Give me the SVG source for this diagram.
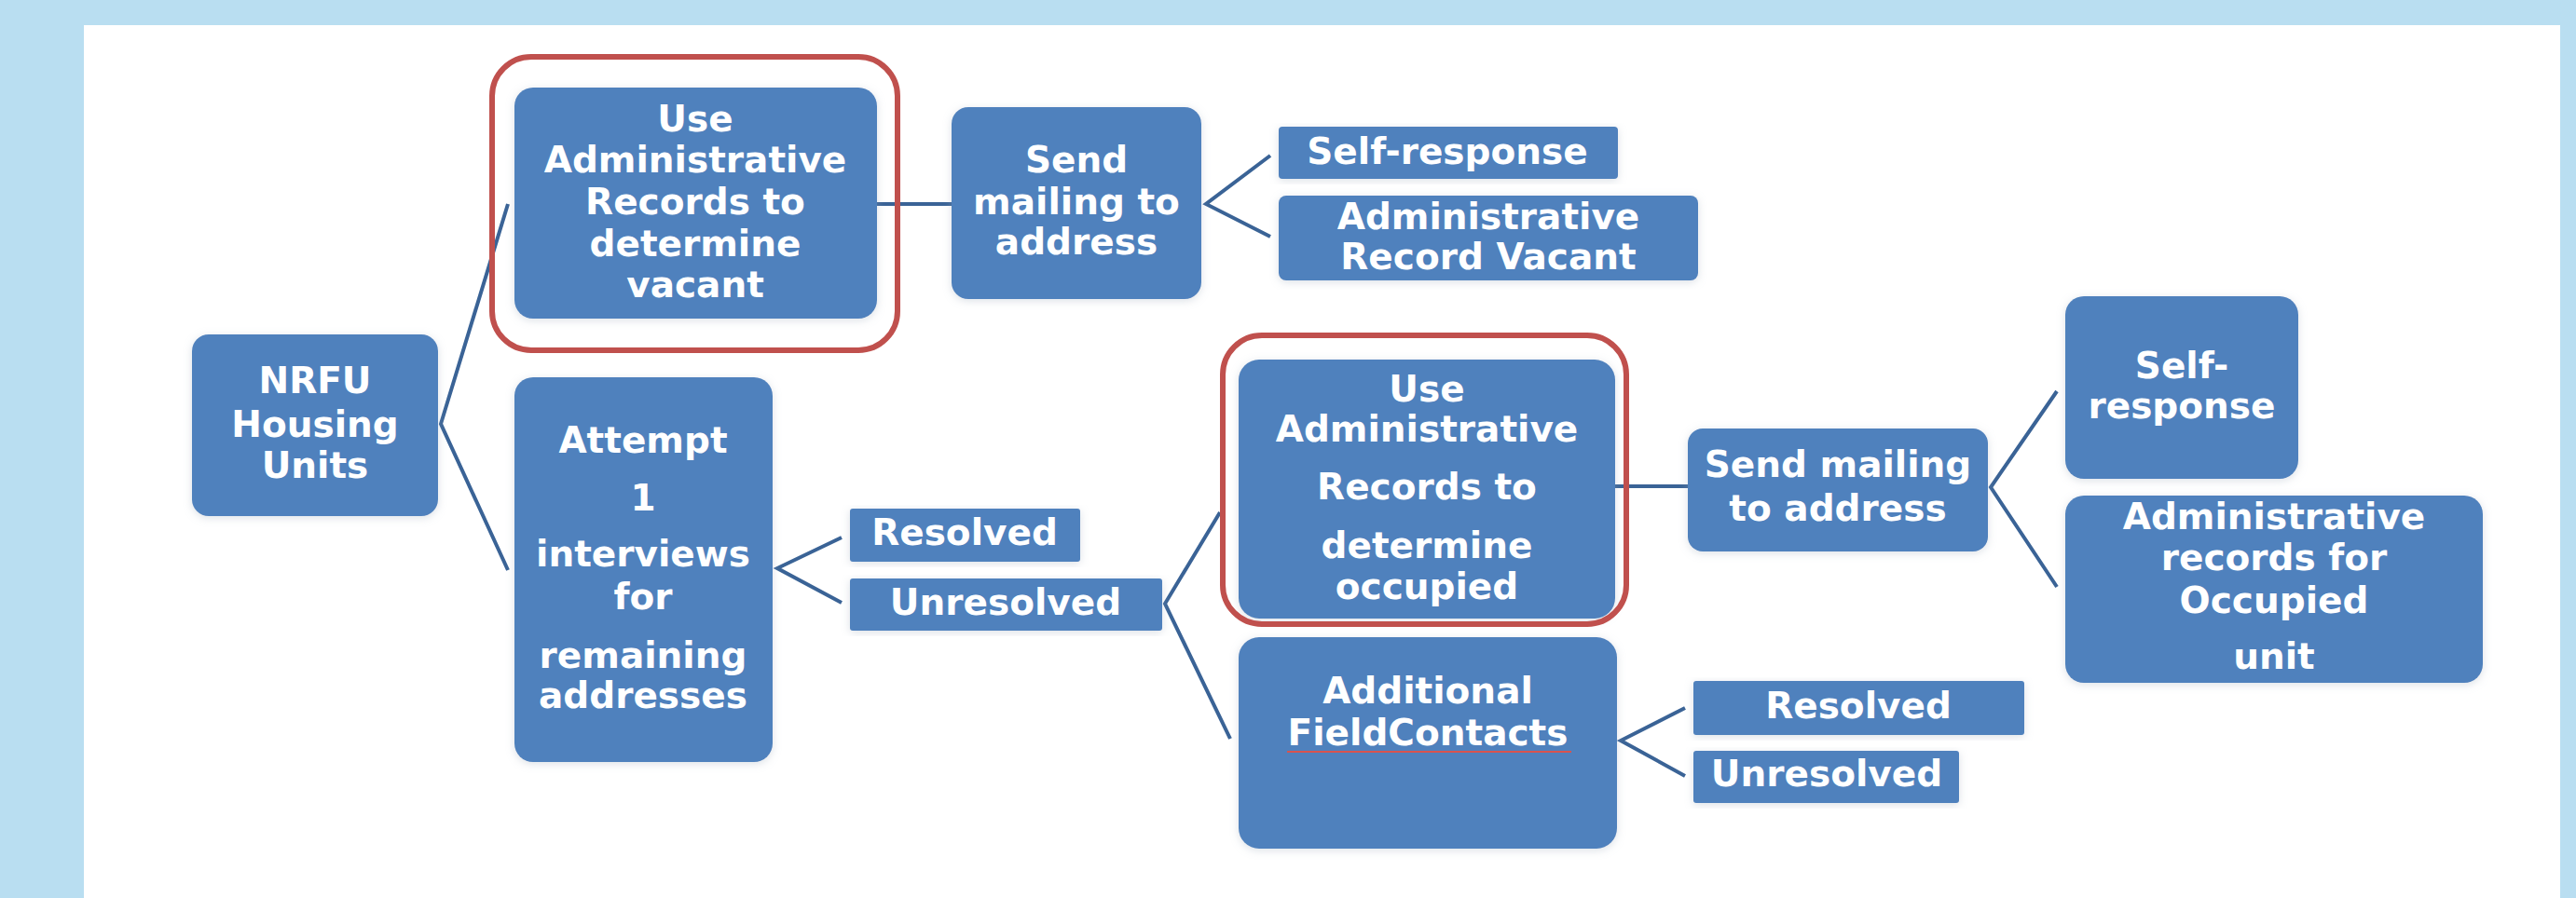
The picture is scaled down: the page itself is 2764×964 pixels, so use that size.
<svg xmlns="http://www.w3.org/2000/svg" width="2764" height="964" viewBox="0 0 2764 964">
  <defs>
    <filter id="halo" x="-10%" y="-10%" width="120%" height="120%">
      <feGaussianBlur in="SourceAlpha" stdDeviation="5"/>
      <feOffset dx="0" dy="2" result="b"/>
      <feFlood flood-color="#9aa8b8" flood-opacity="0.35"/>
      <feComposite in2="b" operator="in"/>
      <feMerge><feMergeNode/><feMergeNode in="SourceGraphic"/></feMerge>
    </filter>
    <style>
      .box { fill: #4F81BD; filter: url(#halo); }
      .hl { fill: none; stroke: #C0504D; stroke-width: 6; }
      .lbl { font-family: "DejaVu Sans", Verdana, sans-serif; font-weight: bold; font-size: 39px; fill: #FFFFFF; text-anchor: middle; }
      .conn { fill: none; stroke: #3A6396; stroke-width: 4; stroke-linejoin: miter; }
    </style>
  </defs>

  <!-- page backdrop and white panel -->
  <rect x="0" y="0" width="2764" height="964" fill="#B9DEF1"/>
  <rect x="90" y="27" width="2657" height="937" fill="#FFFFFF"/>

  <!-- connectors -->
  <g id="connectors">
    <polyline class="conn" points="545,219 473,455 545,612"/>
    <line class="conn" x1="941" y1="219" x2="1021" y2="219"/>
    <polyline class="conn" points="1363,167 1294,219 1363,254"/>
    <polyline class="conn" points="903,577 834,610 903,647"/>
    <polyline class="conn" points="1309,550 1250,648 1320,793"/>
    <line class="conn" x1="1733" y1="522" x2="1811" y2="522"/>
    <polyline class="conn" points="2207,420 2136,523 2207,630"/>
    <polyline class="conn" points="1808,760 1739,795 1808,833"/>
  </g>

  <g id="nrfu">
    <rect class="box" x="206" y="359" width="264" height="195" rx="18"/>
    <text class="lbl" x="338" y="422">NRFU</text>
    <text class="lbl" x="338" y="469">Housing</text>
    <text class="lbl" x="338" y="513">Units</text>
  </g>

  <g id="admin-vacant-check">
    <rect class="box" x="552" y="94" width="389" height="248" rx="20"/>
    <text class="lbl" x="746" y="141">Use</text>
    <text class="lbl" x="746" y="185">Administrative</text>
    <text class="lbl" x="746" y="230">Records to</text>
    <text class="lbl" x="746" y="275">determine</text>
    <text class="lbl" x="746" y="319">vacant</text>
    <rect class="hl" x="528" y="61" width="435" height="315" rx="42"/>
  </g>

  <g id="send-mailing-1">
    <rect class="box" x="1021" y="115" width="268" height="206" rx="18"/>
    <text class="lbl" x="1155" y="185">Send</text>
    <text class="lbl" x="1155" y="230">mailing to</text>
    <text class="lbl" x="1155" y="273">address</text>
  </g>

  <g id="self-response-1">
    <rect class="box" x="1372" y="136" width="364" height="56" rx="4"/>
    <text class="lbl" x="1553" y="176">Self-response</text>
  </g>

  <g id="admin-record-vacant">
    <rect class="box" x="1372" y="210" width="450" height="91" rx="8"/>
    <text class="lbl" x="1597" y="246">Administrative</text>
    <text class="lbl" x="1597" y="289">Record Vacant</text>
  </g>

  <g id="attempt-interviews">
    <rect class="box" x="552" y="405" width="277" height="413" rx="20"/>
    <text class="lbl" x="690" y="486">Attempt</text>
    <text class="lbl" x="690" y="548">1</text>
    <text class="lbl" x="690" y="608">interviews</text>
    <text class="lbl" x="690" y="654">for</text>
    <text class="lbl" x="690" y="717">remaining</text>
    <text class="lbl" x="690" y="760">addresses</text>
  </g>

  <g id="resolved-1">
    <rect class="box" x="912" y="546" width="247" height="57" rx="3"/>
    <text class="lbl" x="1035" y="585">Resolved</text>
  </g>

  <g id="unresolved-1">
    <rect class="box" x="912" y="621" width="335" height="56" rx="3"/>
    <text class="lbl" x="1079" y="660">Unresolved</text>
  </g>

  <g id="admin-occupied-check">
    <rect class="box" x="1329" y="386" width="404" height="278" rx="22"/>
    <text class="lbl" x="1531" y="431">Use</text>
    <text class="lbl" x="1531" y="474">Administrative</text>
    <text class="lbl" x="1531" y="536">Records to</text>
    <text class="lbl" x="1531" y="599">determine</text>
    <text class="lbl" x="1531" y="643">occupied</text>
    <rect class="hl" x="1312" y="360" width="433" height="310" rx="42"/>
  </g>

  <g id="additional-contacts">
    <rect class="box" x="1329" y="684" width="406" height="227" rx="22"/>
    <text class="lbl" x="1532" y="755">Additional</text>
    <text class="lbl" x="1532" y="800">FieldContacts</text>
    <line x1="1381" y1="807" x2="1686" y2="807" stroke="#D9534F" stroke-width="2"/>
  </g>

  <g id="send-mailing-2">
    <rect class="box" x="1811" y="460" width="322" height="132" rx="16"/>
    <text class="lbl" x="1972" y="512">Send mailing</text>
    <text class="lbl" x="1972" y="559">to address</text>
  </g>

  <g id="resolved-2">
    <rect class="box" x="1817" y="731" width="355" height="58" rx="3"/>
    <text class="lbl" x="1994" y="771">Resolved</text>
  </g>

  <g id="unresolved-2">
    <rect class="box" x="1817" y="806" width="285" height="56" rx="3"/>
    <text class="lbl" x="1960" y="844">Unresolved</text>
  </g>

  <g id="self-response-2">
    <rect class="box" x="2216" y="318" width="250" height="196" rx="20"/>
    <text class="lbl" x="2341" y="406">Self-</text>
    <text class="lbl" x="2341" y="449">response</text>
  </g>

  <g id="admin-records-occupied">
    <rect class="box" x="2216" y="532" width="448" height="201" rx="20"/>
    <text class="lbl" x="2440" y="568">Administrative</text>
    <text class="lbl" x="2440" y="612">records for</text>
    <text class="lbl" x="2440" y="658">Occupied</text>
    <text class="lbl" x="2440" y="718">unit</text>
  </g>
</svg>
